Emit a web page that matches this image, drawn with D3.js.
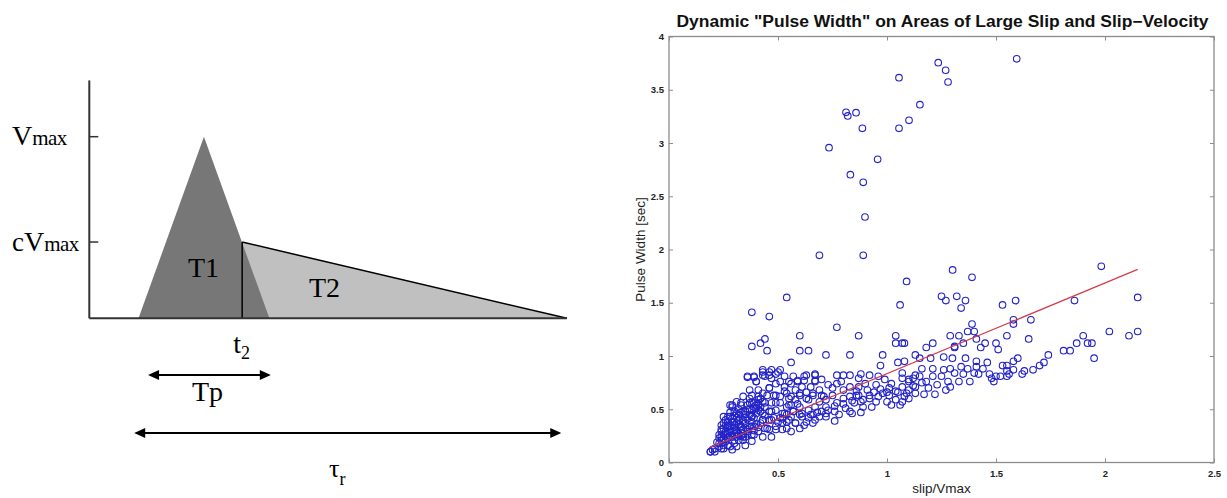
<!DOCTYPE html>
<html>
<head>
<meta charset="utf-8">
<script src="https://cdn.jsdelivr.net/npm/d3@7"></script>
<style>
	body { margin: 0; background: #fff; }
	svg { display: block; }
	.serif { font-family: "Liberation Serif", "Times New Roman", serif; fill: #000; }
	.sans { font-family: "Liberation Sans", Arial, Helvetica, sans-serif; }
</style>
</head>
<body>
<div id="chart"></div>
<script>
//
// Left panel: slip-velocity pulse (fractions of the time axis / of Vmax)
//
var pulseT = [0.103, 0.240, 0.377],   // dark triangle: start, peak, end
	pulseV = [0, 1, 0],
	t2 = 0.320,
	cFactor = 0.42,
	tailEnd = 1.0,
	tpSpan = [0.123, 0.380],
	tauSpan = [0.094, 0.988],
	vAxisTop = 1.31;

//
// Right panel: pulse width vs slip/Vmax
//
var xTicks = [0, 0.5, 1, 1.5, 2, 2.5],
	yTicks = [0, 0.5, 1, 1.5, 2, 2.5, 3, 3.5, 4];

var fitSlope = 0.852,
	fitIntercept = -0.018;

var slipVmax = [
	// outliers
	1.595,1.235,1.269,1.280,1.055,1.151,1.101,1.055,0.812,0.820,
	0.858,0.887,0.734,0.957,0.832,0.891,0.899,0.690,0.891,1.983,
	1.301,1.390,1.090,
	// right side
	1.06,1.25,1.27,1.32,1.36,1.34,1.53,1.59,1.86,2.15,
	1.39,1.58,1.58,1.66,1.29,1.33,1.37,1.40,1.41,1.35,
	1.31,1.43,1.45,1.50,1.51,1.55,1.65,1.90,2.02,2.11,
	2.15,1.87,1.92,1.94,1.95,1.81,1.84,1.74,1.72,1.70,
	1.67,1.62,1.60,1.58,1.55,1.55,1.56,1.53,1.55,1.52,
	1.49,1.50,1.47,1.46,1.44,1.41,1.42,1.38,1.40,1.37,
	1.34,1.35,1.33,1.31,1.29,1.28,1.29,1.26,1.25,1.27,
	1.23,1.22,1.21,1.21,1.18,1.17,1.16,1.15,1.13,1.12,
	1.10,1.10,1.08,1.07,1.07,1.07,1.13,1.18,1.21,1.26,
	1.30,1.31,1.20,1.08,1.15,1.36,1.41,1.63,1.58,1.48,
	// left and middle
	0.54,0.38,0.46,0.77,0.60,0.87,1.04,0.44,0.42,1.04,
	1.07,0.38,0.45,0.60,0.64,0.72,0.83,0.98,0.56,0.97,
	1.05,1.08,0.43,0.47,0.51,0.43,0.46,0.49,0.53,0.57,
	0.59,0.62,0.63,0.67,0.67,0.70,0.77,0.80,0.83,0.88,
	0.87,0.92,0.96,0.36,0.39,0.40,0.37,0.38,0.41,0.46,
	0.49,0.53,0.56,0.58,0.61,0.65,0.69,0.73,0.77,0.80,
	0.83,0.87,0.91,0.95,0.99,1.02,1.07,1.10,1.13,0.98,
	1.01,1.04,1.06,1.02,1.00,1.10,1.13,0.92,0.93,0.95,
	0.89,0.86,0.85,0.88,0.84,0.81,0.80,0.77,0.76,0.76,
	0.73,0.72,0.70,0.67,0.66,0.64,0.64,0.61,0.60,0.60,
	0.58,0.57,0.55,0.54,0.52,0.51,0.49,0.47,0.47,0.46,
	0.45,0.44,0.43,0.42,0.41,0.40,0.38,0.38,0.37,0.35,
	0.34,0.34,0.33,0.32,0.31,0.30,0.29,0.28,0.28,0.27,
	0.26,0.25,0.24,0.25,0.23,0.21,0.19,0.21,0.24,0.28,
	0.30,0.32,0.35,0.38,0.41,0.44,0.49,0.52,0.54,0.58,
	0.63,0.67,0.72,0.78,0.83,0.89,0.25,0.25,0.28,0.24,
	0.27,0.31,0.33,0.36,0.39,0.43,0.51,0.54,0.56,0.34,
	0.31,0.41,0.48,0.54,0.60,0.66,0.70,0.75,0.83,0.87,
	// dense corner
	0.36,0.39,0.43,0.46,0.50,0.44,0.47,0.40,0.51,0.55,
	0.59,0.62,0.67,0.67,0.46,0.43,0.49,0.53,0.56,0.60,
	0.63,0.66,0.69,0.37,0.33,0.36,0.39,0.43,0.47,0.51,
	0.55,0.29,0.30,0.34,0.38,0.42,0.46,0.49,0.53,0.57,
	0.61,0.65,0.69,0.72,0.27,0.31,0.35,0.39,0.43,0.46,
	0.50,0.54,0.58,0.62,0.66,0.26,0.30,0.33,0.37,0.41,
	0.45,0.49,0.52,0.56,0.24,0.28,0.32,0.36,0.39,0.43,
	0.47,0.23,0.27,0.30,0.34,0.38,0.23,0.27,0.31,0.35,
	0.20,0.19,0.25,0.29,0.26,0.29,0.31,0.27,0.33,0.30,
	0.22,0.24,0.26,0.28,0.30,0.32,0.34,0.36,0.38,0.40,
	0.23,0.25,0.27,0.29,0.31,0.33,0.35,0.37,0.39,0.41,
	0.24,0.26,0.28,0.30,0.32,0.34,0.36,0.38,0.40,0.42,
	0.25,0.27,0.29,0.31,0.33,0.35,0.37,0.39,0.41,0.44,
	0.28,0.30,0.32,0.34,0.36,0.38,0.40,0.42,0.44,0.48,
	// middle band
	0.52,0.56,0.60,0.64,0.68,0.72,0.76,0.80,0.84,0.88,
	0.92,0.96,1.00,1.04,0.55,0.59,0.63,0.71,0.75,0.79,
	0.86,0.90,0.94,0.97,1.01,1.05,1.09,1.12,1.16,1.19
];

var pulseWidth = [
	// outliers
	3.79,3.754,3.683,3.573,3.613,3.36,3.213,3.138,3.288,3.254,
	3.285,3.138,2.956,2.847,2.703,2.631,2.305,1.945,1.945,1.842,
	1.808,1.739,1.70,
	// right side
	1.48,1.56,1.52,1.56,1.52,1.45,1.48,1.52,1.52,1.55,
	1.30,1.34,1.30,1.34,1.19,1.19,1.23,1.23,1.16,1.12,
	1.08,1.08,1.12,1.12,1.06,1.19,1.16,1.19,1.23,1.19,
	1.23,1.12,1.12,1.12,0.98,1.05,1.05,1.01,0.94,0.91,
	0.87,0.83,0.98,0.95,0.91,0.86,0.83,0.91,0.81,0.81,
	0.76,0.81,0.83,0.94,0.88,0.90,0.83,0.76,0.84,0.88,
	0.90,0.83,0.76,0.84,0.88,0.76,0.71,0.87,0.81,0.68,
	0.73,0.64,0.81,0.88,0.76,0.64,0.88,0.81,0.71,0.79,
	0.76,0.68,0.62,0.57,0.79,0.71,1.01,1.08,1.12,0.99,
	0.98,1.09,0.98,1.12,0.98,0.98,0.95,0.86,0.87,0.79,
	// left and middle
	1.55,1.41,1.37,1.27,1.19,1.19,1.19,1.16,1.12,1.12,
	1.12,1.09,1.05,1.05,1.05,1.01,1.01,1.01,0.94,0.91,
	0.94,0.95,0.87,0.87,0.87,0.82,0.82,0.83,0.81,0.81,
	0.77,0.77,0.82,0.83,0.77,0.78,0.82,0.82,0.82,0.83,
	0.79,0.82,0.81,0.80,0.80,0.76,0.68,0.63,0.68,0.70,
	0.74,0.71,0.74,0.68,0.71,0.71,0.68,0.73,0.74,0.68,
	0.71,0.71,0.68,0.73,0.78,0.74,0.84,0.78,0.82,0.65,
	0.63,0.59,0.54,0.54,0.57,0.60,0.65,0.63,0.52,0.57,
	0.59,0.63,0.56,0.47,0.46,0.51,0.60,0.56,0.48,0.39,
	0.49,0.59,0.48,0.52,0.45,0.59,0.49,0.43,0.32,0.52,
	0.59,0.48,0.40,0.52,0.46,0.62,0.56,0.48,0.40,0.31,
	0.63,0.52,0.46,0.37,0.59,0.51,0.43,0.34,0.56,0.48,
	0.40,0.31,0.54,0.45,0.37,0.27,0.52,0.43,0.34,0.24,
	0.29,0.26,0.21,0.16,0.15,0.13,0.10,0.10,0.13,0.15,
	0.18,0.21,0.24,0.26,0.29,0.32,0.34,0.37,0.32,0.37,
	0.38,0.40,0.43,0.45,0.48,0.52,0.37,0.43,0.54,0.31,
	0.38,0.46,0.34,0.29,0.34,0.40,0.42,0.45,0.54,0.62,
	0.57,0.62,0.63,0.65,0.63,0.65,0.63,0.63,0.62,0.63,
	// dense corner
	0.81,0.81,0.85,0.85,0.85,0.81,0.79,0.76,0.76,0.76,
	0.76,0.81,0.82,0.76,0.70,0.65,0.63,0.67,0.62,0.65,
	0.60,0.63,0.57,0.60,0.56,0.54,0.56,0.57,0.56,0.56,
	0.54,0.54,0.48,0.48,0.49,0.48,0.48,0.49,0.46,0.48,
	0.46,0.45,0.43,0.46,0.43,0.42,0.42,0.42,0.40,0.40,
	0.38,0.38,0.37,0.35,0.37,0.35,0.35,0.34,0.34,0.33,
	0.32,0.31,0.31,0.29,0.29,0.29,0.27,0.27,0.26,0.24,
	0.24,0.23,0.23,0.21,0.21,0.20,0.18,0.16,0.15,0.16,
	0.12,0.10,0.13,0.12,0.20,0.25,0.31,0.27,0.25,0.38,
	0.19,0.24,0.27,0.31,0.33,0.36,0.38,0.41,0.44,0.46,
	0.26,0.32,0.35,0.38,0.28,0.30,0.45,0.50,0.52,0.55,
	0.35,0.40,0.25,0.44,0.50,0.24,0.31,0.38,0.54,0.60,
	0.22,0.33,0.41,0.24,0.47,0.37,0.45,0.30,0.49,0.56,
	0.47,0.30,0.40,0.27,0.50,0.56,0.36,0.52,0.44,0.42,
	// middle band
	0.41,0.43,0.45,0.42,0.47,0.52,0.53,0.55,0.58,0.57,
	0.60,0.62,0.66,0.67,0.60,0.55,0.66,0.62,0.70,0.76,
	0.67,0.74,0.66,0.69,0.70,0.66,0.65,0.72,0.75,0.70
];

var svg = d3.select("#chart").append("svg")
	.attr("width", 1227)
	.attr("height", 498);

svg.append("rect")
	.attr("width", 1227)
	.attr("height", 498)
	.attr("fill", "#fff");

//
// Left diagram
//
var tScale = d3.scaleLinear().domain([0, 1]).range([89.3, 567]),
	vScale = d3.scaleLinear().domain([0, 1]).range([318.3, 136.7]);

var diag = svg.append("g");

// light tail triangle T2
diag.append("path")
	.attr("d", d3.line()([
		[tScale(t2), vScale(cFactor)],
		[tScale(tailEnd), vScale(0)],
		[tScale(t2), vScale(0)]
	]) + "Z")
	.attr("fill", "#c0c0c0");

// dark triangle T1
diag.append("path")
	.attr("d", d3.line()(pulseT.map(function(t, i) { return [tScale(t), vScale(pulseV[i])]; })) + "Z")
	.attr("fill", "#777777");

// tail edge and t2 marker
diag.append("line")
	.attr("x1", tScale(t2)).attr("y1", vScale(cFactor))
	.attr("x2", tScale(tailEnd)).attr("y2", vScale(0))
	.attr("stroke", "#000").attr("stroke-width", 1.5);
diag.append("line")
	.attr("x1", tScale(t2)).attr("y1", vScale(cFactor))
	.attr("x2", tScale(t2)).attr("y2", vScale(0))
	.attr("stroke", "#000").attr("stroke-width", 1.5);

// axes
diag.append("line")
	.attr("x1", tScale(0)).attr("y1", vScale(0))
	.attr("x2", tScale(0)).attr("y2", vScale(vAxisTop))
	.attr("stroke", "#333").attr("stroke-width", 2);
diag.append("line")
	.attr("x1", tScale(0)).attr("y1", vScale(0))
	.attr("x2", tScale(tailEnd)).attr("y2", vScale(0))
	.attr("stroke", "#333").attr("stroke-width", 2);

diag.selectAll("line.vtick")
	.data([1, cFactor])
	.enter()
	.append("line")
	.attr("class", "vtick")
	.attr("x1", tScale(0)).attr("x2", tScale(0) + 9)
	.attr("y1", function(d) { return vScale(d); })
	.attr("y2", function(d) { return vScale(d); })
	.attr("stroke", "#333").attr("stroke-width", 1.5);

// labels
function vLabel(prefix, y) {
	var t = diag.append("text").attr("class", "serif").attr("x", 12).attr("y", y);
	if (prefix) t.append("tspan").attr("font-size", 27).text(prefix);
	t.append("tspan").attr("font-size", 28).text("V");
	t.append("tspan").attr("font-size", 21).attr("letter-spacing", -0.6).text("max");
}
vLabel("", vScale(1) + 8.5);
vLabel("c", vScale(cFactor) + 8.5);

diag.append("text").attr("class", "serif").attr("font-size", 28)
	.attr("x", 188).attr("y", 277).text("T1");
diag.append("text").attr("class", "serif").attr("font-size", 28)
	.attr("x", 309).attr("y", 297).text("T2");

var t2Label = diag.append("text").attr("class", "serif").attr("x", tScale(t2) - 9).attr("y", 353);
t2Label.append("tspan").attr("font-size", 28).text("t");
t2Label.append("tspan").attr("font-size", 18).attr("dy", 6).text("2");

diag.append("text").attr("class", "serif").attr("font-size", 28)
	.attr("x", 192).attr("y", 401).text("Tp");

var tauLabel = diag.append("text").attr("class", "serif").attr("x", 329).attr("y", 477);
tauLabel.append("tspan").attr("font-size", 26).text("\u03C4");
tauLabel.append("tspan").attr("font-size", 18).attr("dy", 8).text("r");

// double-headed arrows
function arrow(span, y) {
	var x1 = tScale(span[0]), x2 = tScale(span[1]), head = 11, half = 5;
	diag.append("line")
		.attr("x1", x1 + head - 1).attr("x2", x2 - head + 1)
		.attr("y1", y).attr("y2", y)
		.attr("stroke", "#000").attr("stroke-width", 2);
	diag.append("path")
		.attr("d", d3.line()([[x1, y], [x1 + head, y - half], [x1 + head, y + half]]) + "Z")
		.attr("fill", "#000");
	diag.append("path")
		.attr("d", d3.line()([[x2, y], [x2 - head, y - half], [x2 - head, y + half]]) + "Z")
		.attr("fill", "#000");
}
arrow(tpSpan, 375);
arrow(tauSpan, 433);

//
// Right scatter plot
//
var plot = { left: 669, right: 1214, top: 36.5, bottom: 462.5 };

var xScale = d3.scaleLinear().domain([0, 2.5]).range([plot.left, plot.right]),
	yScale = d3.scaleLinear().domain([0, 4]).range([plot.bottom, plot.top]);

var fmt = d3.format("");

function styleAxis(g) {
	g.select(".domain").remove();
	g.selectAll(".tick line").attr("stroke", "#8c8c8c");
	g.selectAll(".tick text")
		.attr("fill", "#222")
		.attr("font-size", 9.5)
		.attr("font-weight", "bold")
		.attr("font-family", "'Liberation Sans', Arial, sans-serif");
}

svg.append("g")
	.attr("transform", "translate(0," + plot.bottom + ")")
	.call(d3.axisBottom(xScale).tickValues(xTicks).tickFormat(fmt)
		.tickSizeInner(-4).tickSizeOuter(0).tickPadding(8))
	.call(styleAxis);
svg.append("g")
	.attr("transform", "translate(0," + plot.top + ")")
	.call(d3.axisTop(xScale).tickValues(xTicks).tickFormat("")
		.tickSizeInner(-4).tickSizeOuter(0))
	.call(styleAxis);
svg.append("g")
	.attr("transform", "translate(" + plot.left + ",0)")
	.call(d3.axisLeft(yScale).tickValues(yTicks).tickFormat(fmt)
		.tickSizeInner(-4).tickSizeOuter(0).tickPadding(5))
	.call(styleAxis);
svg.append("g")
	.attr("transform", "translate(" + plot.right + ",0)")
	.call(d3.axisRight(yScale).tickValues(yTicks).tickFormat("")
		.tickSizeInner(-4).tickSizeOuter(0))
	.call(styleAxis);

svg.append("rect")
	.attr("x", plot.left).attr("y", plot.top)
	.attr("width", plot.right - plot.left)
	.attr("height", plot.bottom - plot.top)
	.attr("fill", "none")
	.attr("stroke", "#8c8c8c")
	.attr("stroke-width", 1.3);

// data points
svg.append("g")
	.selectAll("circle")
	.data(slipVmax)
	.enter()
	.append("circle")
	.attr("cx", function(d) { return xScale(d); })
	.attr("cy", function(d, i) { return yScale(pulseWidth[i]); })
	.attr("r", 3.3)
	.attr("fill", "none")
	.attr("stroke", "#2323c8")
	.attr("stroke-width", 1.1);

// linear fit
var fitX = d3.extent(slipVmax);
svg.append("path")
	.attr("d", d3.line()
		.x(function(d) { return xScale(d); })
		.y(function(d) { return yScale(fitIntercept + fitSlope * d); })(fitX))
	.attr("fill", "none")
	.attr("stroke", "#d23c4a")
	.attr("stroke-width", 1.2);

// titles
svg.append("text")
	.attr("class", "sans")
	.attr("x", (plot.left + plot.right) / 2 + 1)
	.attr("y", 27)
	.attr("text-anchor", "middle")
	.attr("font-size", 16)
	.attr("font-weight", "bold")
	.attr("fill", "#111")
	.attr("textLength", 532)
	.attr("lengthAdjust", "spacingAndGlyphs")
	.text("Dynamic \"Pulse Width\" on Areas of Large Slip and Slip\u2212Velocity");

svg.append("text")
	.attr("class", "sans")
	.attr("x", (plot.left + plot.right) / 2)
	.attr("y", 493)
	.attr("text-anchor", "middle")
	.attr("font-size", 13.5)
	.attr("fill", "#222")
	.text("slip/Vmax");

svg.append("text")
	.attr("class", "sans")
	.attr("transform", "translate(645," + yScale(2) + ") rotate(-90)")
	.attr("text-anchor", "middle")
	.attr("font-size", 13.5)
	.attr("fill", "#222")
	.text("Pulse Width [sec]");
</script>
</body>
</html>
